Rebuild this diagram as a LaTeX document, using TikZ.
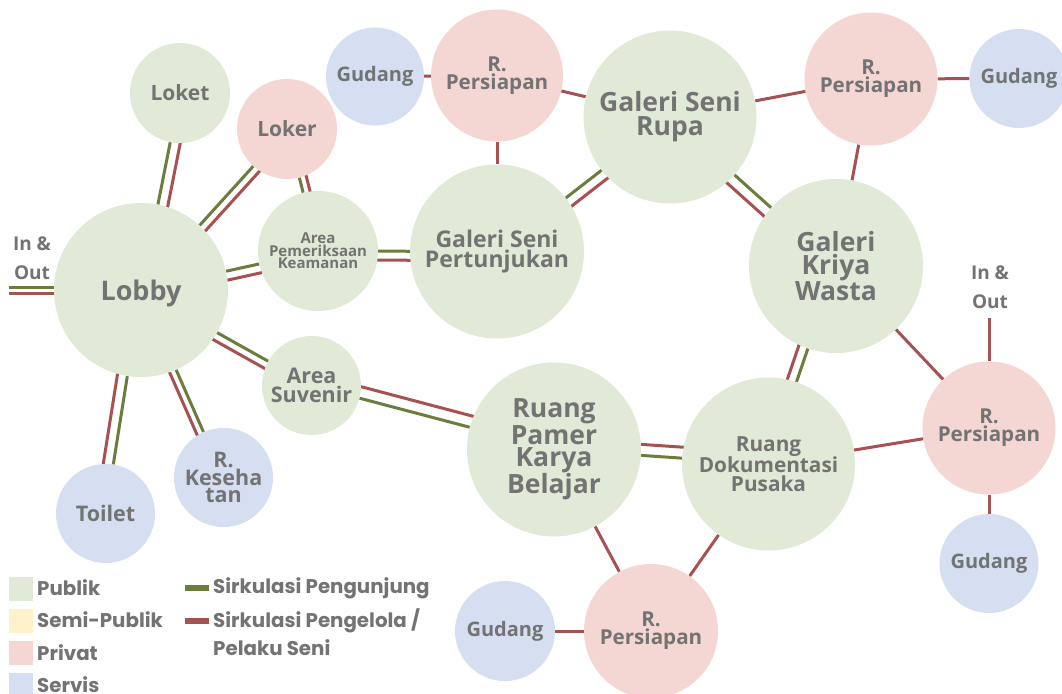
\documentclass[tikz,border=0pt]{standalone}
\usepackage{fontspec}
\newfontfamily\labf{Open Sans}
\newfontfamily\legf{Poppins}
\usetikzlibrary{calc,backgrounds}
\definecolor{pub}{HTML}{E0EAD6}
\definecolor{semi}{HTML}{FFF1C9}
\definecolor{priv}{HTML}{F4D6D3}
\definecolor{serv}{HTML}{D6DFF1}
\definecolor{gcol}{HTML}{6B7D3C}
\definecolor{rcol}{HTML}{A65252}
\definecolor{txt}{HTML}{737373}
\newcommand\dbl[3]{%
  \draw[gline] (#1) -- (#2);
  \draw[rline] ($(#1)!#3!-90:(#2)$) -- ($(#2)!#3!90:(#1)$);
}
\newcommand\lf[2]{\labf\bfseries\fontsize{#1}{#2}\selectfont}
\begin{document}
\begin{tikzpicture}[x=1pt,y=-1pt,
  room/.style={circle, inner sep=0pt, align=center, text=txt},
  pubr/.style={room, fill=pub},
  privr/.style={room, fill=priv},
  servr/.style={room, fill=serv},
  gline/.style={draw=gcol, line width=3pt},
  rline/.style={draw=rcol, line width=3pt},
  sq/.style={rectangle, inner sep=0pt, minimum size=24pt},
  bar/.style={rectangle, inner sep=0pt, minimum width=24pt, minimum height=6pt},
  legt/.style={anchor=west, inner sep=0pt, text=txt, font=\legf\bfseries\fontsize{19.8}{28}\selectfont, align=left},
  iotext/.style={inner sep=0pt, text=txt, align=center, font=\lf{19}{29}}
]
\useasboundingbox (0,0) rectangle (1062,693);

% rooms
\node[pubr, minimum size=174pt, font=\lf{27}{22}, text depth=0pt] (lobby) at (141,290) {Lobby};
\node[pubr, minimum size=100pt, font=\lf{21}{18}] (loket) at (180,93) {Loket};
\node[privr, minimum size=100pt, font=\lf{21}{18}] (loker) at (287,129) {Loker};
\node[pubr, minimum size=120pt, font=\lf{15}{12.5}] (apk) at (318,251) {Area\\Pemeriksaan\\Keamanan};
\node[servr, minimum size=98pt, font=\lf{20}{17}] (gudTL) at (375,76.5) {Gudang};
\node[privr, minimum size=132pt, font=\lf{20.6}{18}] (rpT) at (497,75.5) {R.\\Persiapan};
\node[pubr, minimum size=173pt, font=\lf{26.5}{24}] (gsr) at (670,117) {Galeri Seni\\Rupa};
\node[privr, minimum size=133pt, font=\lf{20.6}{18}] (rpTR) at (871,79) {R.\\Persiapan};
\node[servr, minimum size=99pt, font=\lf{20}{17}] (gudTR) at (1019,78.5) {Gudang};
\node[pubr, minimum size=174pt, font=\lf{23}{20.5}] (gsp) at (497,251.5) {Galeri Seni\\Pertunjukan};
\node[pubr, minimum size=174pt, font=\lf{26.5}{22.5}] (gkw) at (836,266) {Galeri\\Kriya\\Wasta};
\node[pubr, minimum size=99pt, font=\lf{21.5}{19}] (suv) at (311.5,385.5) {Area\\Suvenir};
\node[pubr, minimum size=174pt, font=\lf{26.5}{22}] (rpk) at (554,449.5) {Ruang\\Pamer\\Karya\\Belajar};
\node[pubr, minimum size=173pt, font=\lf{20.8}{18.5}] (rdp) at (768.5,464) {Ruang\\Dokumentasi\\Pusaka};
\node[privr, minimum size=133pt, font=\lf{20.6}{18}] (rpR) at (989,428) {R.\\Persiapan};
\node[servr, minimum size=99pt, font=\lf{20}{17}] (gudBR) at (989,563.5) {Gudang};
\node[privr, minimum size=134pt, font=\lf{20.6}{18}] (rpB) at (651,631) {R.\\Persiapan};
\node[servr, minimum size=100pt, font=\lf{20}{17}] (gudB) at (505,631) {Gudang};
\node[servr, minimum size=99pt, font=\lf{21.5}{18}] (toilet) at (105.5,513.5) {Toilet};
\node[servr, minimum size=99pt, font=\lf{21.5}{17.5}] (rkes) at (223.5,477.5) {R.\\Keseha\\tan};

% entrances
\node[iotext] (inL) at (32,258.5) {In \&\\Out};
\node[iotext] (inR) at (990,287.5) {In \&\\Out};
\coordinate (inLend) at (9,287);
\coordinate (inRend) at (989,318);

% legend
\node[sq, fill=pub] (lg1) at (21,588.5) {};
\node[sq, fill=semi] (lg2) at (21,620.5) {};
\node[sq, fill=priv] (lg3) at (21,653) {};
\node[sq, fill=serv] (lg4) at (21,685) {};
\node[legt] (lt1) at (37,588) {Publik};
\node[legt] (lt2) at (37,620) {Semi-Publik};
\node[legt] (lt3) at (37,653) {Privat};
\node[legt] (lt4) at (37,685) {Servis};
\node[bar, fill=gcol] (lb1) at (197,588) {};
\node[bar, fill=rcol] (lb2) at (197,621) {};
\node[legt] (lt5) at (213,588) {Sirkulasi Pengunjung};
\node[legt, anchor=north west] (lt6) at (213,608) {Sirkulasi Pengelola /\\Pelaku Seni};

\begin{pgfonlayer}{background}
  \fill[white] (0,0) rectangle (1062,693);
  % double circulation
  \draw[gline] (inLend) -- (inLend -| lobby);
  \draw[rline] ([yshift=-6.6pt]inLend) -- ([yshift=-6.6pt]inLend -| lobby);
  \dbl{lobby}{loket}{10pt}
  \dbl{lobby}{loker}{8pt}
  \dbl{lobby}{apk}{9pt}
  \dbl{lobby}{suv}{8pt}
  \dbl{lobby}{toilet}{10pt}
  \dbl{lobby}{rkes}{7pt}
  \dbl{apk}{loker}{7pt}
  \dbl{apk}{gsp}{9pt}
  \dbl{gsp}{gsr}{10pt}
  \dbl{gsr}{gkw}{11pt}
  \dbl{gkw}{rdp}{9.5pt}
  \dbl{rdp}{rpk}{11pt}
  \dbl{rpk}{suv}{11.5pt}
  % staff circulation
  \draw[rline] (gudTL) -- (rpT);
  \draw[rline] (rpT) -- (gsr);
  \draw[rline] (rpT) -- (gsp);
  \draw[rline] (gsr) -- (rpTR);
  \draw[rline] (rpTR) -- (gudTR);
  \draw[rline] (rpTR) -- (gkw);
  \draw[rline] (gkw) -- (rpR);
  \draw[rline] (rdp) -- (rpR);
  \draw[rline] (inRend) -- (rpR);
  \draw[rline] (rpR) -- (gudBR);
  \draw[rline] (rpk) -- (rpB);
  \draw[rline] (rdp) -- (rpB);
  \draw[rline] (gudB) -- (rpB);
\end{pgfonlayer}
\end{tikzpicture}
\end{document}
